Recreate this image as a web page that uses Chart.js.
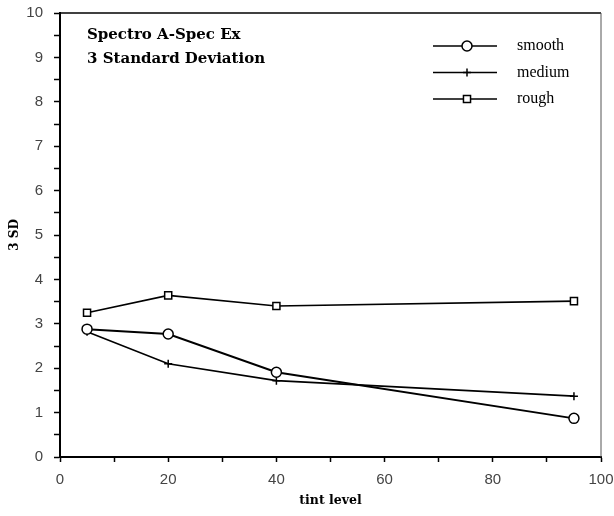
<!DOCTYPE html>
<html>
<head>
<meta charset="utf-8">
<script src="https://cdn.jsdelivr.net/npm/chart.js@4.4.0/dist/chart.umd.min.js"></script>
<style>
  body { margin: 0; background: #fff; }
  canvas { display: block; }
</style>
</head>
<body>
<canvas id="myChart" width="614" height="516"></canvas>
<script>
// values
const tintLevels = [5, 20, 40, 95];
const smoothSD = [2.88, 2.77, 1.91, 0.87];
const mediumSD = [2.82, 2.10, 1.72, 1.37];
const roughSD = [3.25, 3.64, 3.40, 3.51];
const seriesNames = ['smooth', 'medium', 'rough'];
const titleLines = ['Spectro A-Spec Ex', '3 Standard Deviation'];

function toPoints(ys){
    return tintLevels.map((x, i) => ({x: x, y: ys[i]}));
}

// box round the plot, title text and the legend drawn inside the plot
const framePlugin = {
    id: 'frame',
    afterDraw(chart){
        const ctx = chart.ctx;
        const a = chart.chartArea;
        ctx.save();
        ctx.strokeStyle = '#000';
        ctx.lineWidth = 1.5;
        ctx.beginPath();
        ctx.moveTo(a.left, a.top);
        ctx.lineTo(a.right, a.top);
        ctx.stroke();
        ctx.strokeStyle = '#555';
        ctx.lineWidth = 1;
        ctx.beginPath();
        ctx.moveTo(a.right, a.top);
        ctx.lineTo(a.right, a.bottom);
        ctx.stroke();

        ctx.fillStyle = '#000';
        ctx.font = 'bold 15px "DejaVu Serif"';
        ctx.textBaseline = 'middle';
        ctx.textAlign = 'left';
        ctx.fillText(titleLines[0], 87, 35);
        ctx.fillText(titleLines[1], 87, 59);

        chart.data.datasets.forEach((ds, i) => {
            const y = 46 + i * 26.5;
            ctx.strokeStyle = '#000';
            ctx.lineWidth = 1.5;
            ctx.beginPath();
            ctx.moveTo(433, y);
            ctx.lineTo(497, y);
            ctx.stroke();
            ctx.fillStyle = '#fff';
            ctx.lineWidth = ds.pointBorderWidth;
            Chart.helpers.drawPoint(ctx, {
                pointStyle: ds.pointStyle,
                radius: ds.pointRadius,
                borderWidth: ds.pointBorderWidth
            }, 467, y);
            ctx.fillStyle = '#000';
            ctx.font = '16px "Liberation Serif"';
            ctx.fillText(ds.label, 517, y);
        });
        ctx.restore();
    }
};

function makeSet(label, ys, style, radius, width){
    return {
        label: label,
        data: toPoints(ys),
        borderColor: '#000',
        borderWidth: width,
        backgroundColor: '#fff',
        pointStyle: style,
        pointRadius: radius,
        pointBorderWidth: 1.5,
        pointBorderColor: '#000',
        pointBackgroundColor: '#fff',
        tension: 0
    };
}

new Chart('myChart', {
    type: 'line',
    data: {
        datasets: [
            makeSet(seriesNames[0], smoothSD, 'circle', 5, 2),
            makeSet(seriesNames[1], mediumSD, 'cross', 4, 1.6),
            makeSet(seriesNames[2], roughSD, 'rect', 5, 1.6)
        ]
    },
    options: {
        responsive: false,
        animation: false,
        layout: {
            padding: {left: 0, top: 13, right: 13, bottom: 0}
        },
        plugins: {
            legend: { display: false },
            tooltip: { enabled: false }
        },
        scales: {
            x: {
                type: 'linear',
                min: 0,
                max: 100,
                afterFit(scale){
                    scale.height = 59;
                    scale.paddingLeft = 0;
                    scale.paddingRight = 0;
                },
                border: { color: '#000', width: 2 },
                grid: {
                    drawOnChartArea: false,
                    drawTicks: true,
                    tickLength: 5,
                    tickColor: '#000',
                    tickWidth: 1.5
                },
                ticks: {
                    stepSize: 10,
                    autoSkip: false,
                    maxRotation: 0,
                    padding: 9,
                    color: '#444',
                    font: { family: '"Liberation Sans"', size: 15 },
                    callback: v => (v % 20 === 0 ? v : '')
                },
                title: {
                    display: true,
                    text: 'tint level',
                    color: '#000',
                    font: { family: '"DejaVu Serif"', size: 12.5, weight: 'bold' },
                    padding: { top: 0, bottom: 8 }
                }
            },
            y: {
                min: 0,
                max: 10,
                afterFit(scale){
                    scale.width = 60;
                    scale.paddingTop = 0;
                    scale.paddingBottom = 0;
                },
                border: { color: '#000', width: 2 },
                grid: {
                    drawOnChartArea: false,
                    drawTicks: true,
                    tickLength: 6,
                    tickColor: '#000',
                    tickWidth: 1.5
                },
                ticks: {
                    stepSize: 0.5,
                    autoSkip: false,
                    padding: 11,
                    color: '#444',
                    font: { family: '"Liberation Sans"', size: 15 },
                    callback: v => (Number.isInteger(v) ? v : '')
                },
                title: {
                    display: true,
                    text: '3 SD',
                    color: '#000',
                    font: { family: '"DejaVu Serif"', size: 12, weight: 'bold' },
                    padding: { top: 8, bottom: 0 }
                }
            }
        }
    },
    plugins: [framePlugin]
});
</script>
</body>
</html>
